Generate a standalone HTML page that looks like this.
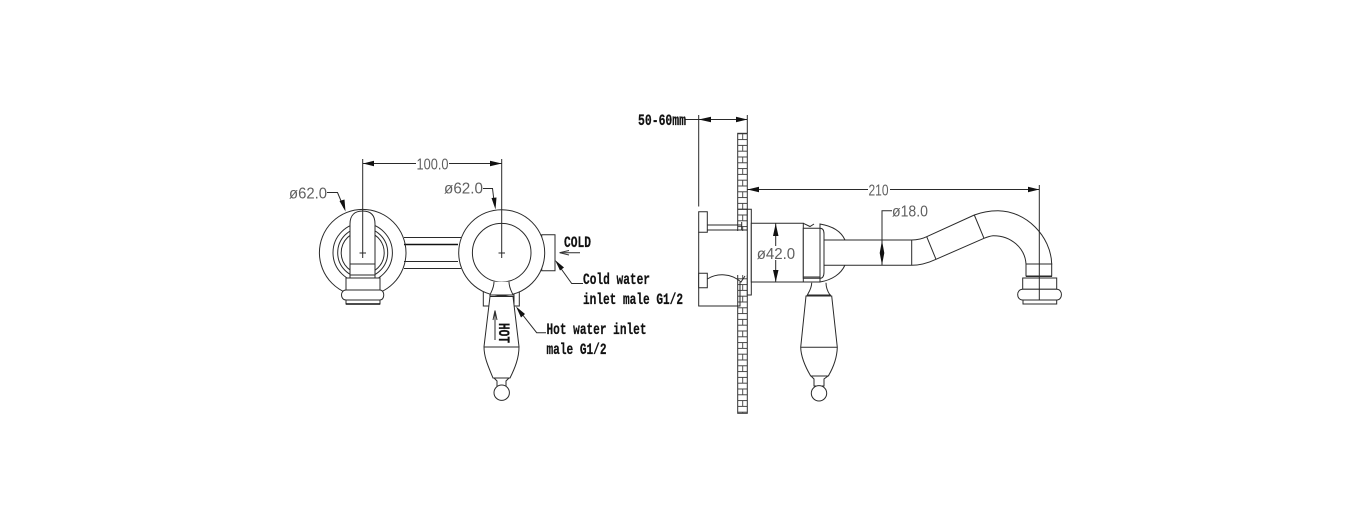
<!DOCTYPE html>
<html><head><meta charset="utf-8"><style>
html,body{margin:0;padding:0;background:#fff}
svg{display:block;filter:blur(.3px)}
.l{fill:none;stroke:#2a2a2a;stroke-width:1}
.w{fill:#fff;stroke:#2a2a2a;stroke-width:1}
.t{font-family:"Liberation Sans",sans-serif;font-size:16px;fill:#5f5f5f}
.s{font-family:"Liberation Mono",monospace;font-weight:bold;font-size:16px;fill:#111;stroke:#111;stroke-width:.25}
.a{fill:#111;stroke:none}
</style></head><body>
<svg width="1351" height="528" viewBox="0 0 1351 528" xmlns="http://www.w3.org/2000/svg">
<defs><pattern id="b" x="737.7" y="133.3" width="9.6" height="11.6" patternUnits="userSpaceOnUse">
<path d="M0 .5H9.6M0 6.3H9.6M5 .5V6.3" fill="none" stroke="#444" stroke-width=".9"/></pattern></defs>

<!-- LEFT VIEW -->
<path class="l" d="M404 237.5H461M404 244.5H458M404 261.5H458M404 268.5H461"/>
<path d="M404 244.5H458" stroke="#111" stroke-width="1.4" fill="none"/>
<circle class="l" cx="362.7" cy="252.7" r="43.3"/>
<circle class="l" cx="362.7" cy="252.7" r="29.7" stroke-width="1.3"/>
<circle class="l" cx="362.7" cy="252.7" r="25"/>
<circle class="l" cx="362.7" cy="252.7" r="21.5"/>
<path class="w" d="M350 278V224C350 215 355 211 362.7 211S375 215 375 224V278Z"/>
<path class="l" d="M350 264H375M350 275H375"/>
<path class="w" d="M346 278H380V290H346Z"/>
<path class="w" d="M346 290H380C385 290 385 300 380 300H346C340 300 340 290 346 290Z"/>
<path class="w" d="M346 300H380V304H346Z"/>
<path d="M346 304H380" stroke="#111" stroke-width="1.5"/>
<path class="l" d="M362.7 159V258M359.5 253H366"/>

<!-- RIGHT CIRCLE -->
<path class="w" d="M541.7 234.7H555V270.7H541.7Z"/>
<path class="w" d="M483.3 291.7H490V306H483.3ZM514 291.7H519.3V306H514Z"/>
<circle class="w" cx="501.7" cy="252.7" r="43"/>
<circle class="w" cx="501.7" cy="252.7" r="29.3" stroke-width="1.3"/>
<path class="l" d="M501.7 159V258M498.5 253H505"/>
<path class="w" d="M494 281.7C494 288 491 292 490 295H513C512 292 509 288 509 281.7"/>
<path class="w" d="M490 296.5L484 346.7C484 358 489 368 493 378H510C515 368 519 358 519 346.7L513 296.5Z"/>
<path class="l" d="M490 295H513M484 347H519"/>
<path class="w" d="M494 378H509L506 381V387H497V381Z"/>
<circle class="w" cx="501.7" cy="392.7" r="7.7"/>

<!-- LEFT DIMENSIONS -->
<path class="l" d="M362.7 163.5H416M449 163.5H501.7"/>
<path class="a" d="M363 163.5L374 160.7V166.3ZM501.7 163.5L490 160.7V166.3Z"/>
<text class="t" x="416.5" y="169.5" textLength="32" lengthAdjust="spacingAndGlyphs">100.0</text>
<text class="t" x="289" y="198.5" textLength="38" lengthAdjust="spacingAndGlyphs">ø62.0</text>
<path class="l" d="M327 192.5H337.5L344 208"/>
<path class="a" d="M345.5 211.5L339.5 201L344.5 199.5Z"/>
<text class="t" x="444" y="193.5" textLength="39" lengthAdjust="spacingAndGlyphs">ø62.0</text>
<path class="l" d="M483 188.5H492.5L494.5 205"/>
<path class="a" d="M495.5 209.5L491.5 198L496.5 197.5Z"/>

<!-- LABELS -->
<text class="s" x="564" y="247" textLength="27" lengthAdjust="spacingAndGlyphs">COLD</text>
<path class="l" d="M580 252.7H560"/>
<path d="M559.5 252.7L569 250.5M559.5 252.7L569 255" stroke="#333" fill="none"/>
<path class="l" d="M583 283.5H571.7L557 263"/>
<path class="a" d="M555 260L564 267.5L560 270.5Z"/>
<text class="s" x="583" y="284" textLength="67" lengthAdjust="spacingAndGlyphs">Cold water</text>
<text class="s" x="583" y="304" textLength="100" lengthAdjust="spacingAndGlyphs">inlet male G1/2</text>
<path class="l" d="M546 332.7H536.7L518 309"/>
<path class="a" d="M516 306.5L525 314L521 317.5Z"/>
<text class="s" x="546.5" y="334" textLength="100" lengthAdjust="spacingAndGlyphs">Hot water inlet</text>
<text class="s" x="546.5" y="354" textLength="60" lengthAdjust="spacingAndGlyphs">male G1/2</text>
<text class="s" transform="translate(499 323) rotate(90)" textLength="20" lengthAdjust="spacingAndGlyphs" x="0" y="0">HOT</text>
<path class="l" d="M495 340V312"/>
<path d="M495 310.5L493 320M495 310.5L497 320" stroke="#333" fill="none"/>

<!-- WALL -->
<rect x="737.7" y="133.3" width="9.6" height="280" fill="url(#b)" stroke="#333" stroke-width="1"/>

<!-- SIDE VIEW -->
<path class="l" d="M698.7 115V206.5M747.3 115V133"/>
<path class="l" d="M685 119.5H747.3"/>
<path class="a" d="M698.7 119.5L711 116.7V122.3ZM747.3 119.5L736 116.7V122.3Z"/>
<text class="s" x="638" y="125" textLength="48" lengthAdjust="spacingAndGlyphs">50-60mm</text>

<!-- opening in wall -->
<rect x="730" y="231" width="17" height="44" fill="#fff"/>
<path d="M698.7 232.3V306H740V282" class="l"/>
<path class="w" d="M698.7 211.7H707.3V232.3H698.7ZM698.7 273.3H707.3V287.7H698.7Z"/>
<path class="l" d="M707.3 225H741.7M707.3 230H747M741.7 222V230"/>
<path class="l" d="M707.3 279C717 273 731 273 741 282L745 276"/>
<path class="l" d="M737.7 209.3H747.3"/>
<path class="w" d="M747.3 209.3H751.3V295H747.3Z"/>
<path class="w" d="M751.3 223.3H803.3V282H751.3Z" stroke-width="1.2"/>
<path class="w" d="M820 224C832 226 841 231 845 240V265C841 274 832 280 820 282Z"/>
<path class="w" d="M803.3 228.3H820C823 228.3 824 231 824 234V272C824 276 823 278.3 820 278.3H803.3Z"/>
<path class="l" d="M820 228.3V278.3M803.3 223.3L810 226.5L814 224"/>
<path class="l" d="M803.3 277H820M803.3 282H820"/>

<path class="w" d="M824 240H911.7C917 240 922 239 926.7 236.7L974.3 215C982 212 990 210.7 998 210.7C1026 211 1051 236 1051.7 264H1026C1025 248 1011 235.5 993 235.7C990 236 987 237 984 238.3L936 259.3C928 263 920 265.3 911.7 265.3H824Z"/>
<path class="l" d="M911.7 240V265.3M926.7 236.7L936 259.3M974.3 215L984 238.3"/>
<path class="w" d="M1026 264H1051.7V276H1026Z"/>
<path class="w" d="M1022.7 278H1056.7V289.3H1022.7Z"/>
<path class="w" d="M1022.7 289.3H1056.7C1063 289.3 1063 300 1056.7 300H1022.7C1016 300 1016 289.3 1022.7 289.3Z"/>
<path class="w" d="M1023 300H1056.7V304H1023Z"/>
<path class="l" d="M1026 276.5H1052"/>

<!-- side handle -->
<path class="w" d="M811.7 282.7C811.7 288 809 292 807.3 295H830C828 292 826 288 826 282.7"/>
<path class="w" d="M806 296L800.7 347.3C801 358 806 368 810.7 376H828.3C833 368 837 358 837.3 347.3L831.7 296Z"/>
<path class="l" d="M807 295H831M800.7 347.3H837.3"/>
<path class="w" d="M811 376H828L824 379V386H814V379Z"/>
<circle class="w" cx="819" cy="393.3" r="7.7"/>

<!-- side dims -->
<path class="l" d="M1039.3 185V299.5"/>
<path class="l" d="M747.3 189.5H868M890 189.5H1039.3"/>
<path class="a" d="M747.5 189.5L759 186.7V192.3ZM1039.3 189.5L1028 186.7V192.3Z"/>
<text class="t" x="868.5" y="195.5" textLength="20" lengthAdjust="spacingAndGlyphs">210</text>
<text class="t" x="892" y="216.5" textLength="36" lengthAdjust="spacingAndGlyphs">ø18.0</text>
<path class="l" d="M892 210.7H882V265.3"/>
<path class="a" d="M882 240.5L879.7 253H884.3ZM882 265L879.7 253H884.3Z"/>
<path class="l" d="M775.7 223.3V246M775.7 260V282"/>
<path class="a" d="M775.7 223.5L773 236H778.5ZM775.7 282L773 270H778.5Z"/>
<text class="t" x="756.7" y="259" textLength="38.5" lengthAdjust="spacingAndGlyphs">ø42.0</text>
</svg>
</body></html>
